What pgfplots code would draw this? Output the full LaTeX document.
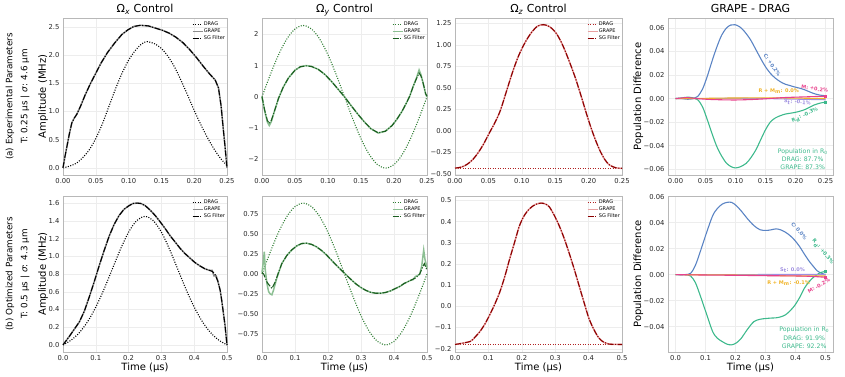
\documentclass[border=0pt]{standalone}
\usepackage{fontspec}
\setmainfont{DejaVu Sans}
\usepackage{pgfplots}
\pgfplotsset{compat=1.18}

\definecolor{cblue}{HTML}{5B84C4}
\definecolor{cgreen}{HTML}{3DB98C}
\definecolor{cpink}{HTML}{E8418C}
\definecolor{corange}{HTML}{F0B429}
\definecolor{cpurple}{HTML}{9F8FE0}
\definecolor{gdark}{HTML}{1B5E20}
\definecolor{gmid}{HTML}{2E7D32}
\definecolor{glight}{HTML}{8CBF93}
\definecolor{rdark}{HTML}{8B0000}
\definecolor{rmid}{HTML}{B22222}
\definecolor{rlight}{HTML}{E8A0A0}
\definecolor{framec}{HTML}{B8B8B8}

\tikzset{lab/.style={font=\bfseries\fontsize{5}{6}\selectfont}}

\pgfplotsset{
  every axis title/.style={at={(0.5,1)}, anchor=base, yshift=5.5pt, inner sep=0pt, font=\fontsize{11}{13}\selectfont},
  base/.style={
    scale only axis, clip=false, anchor=south west,
    scaled y ticks=false, scaled x ticks=false,
    axis line style={draw=framec, line width=0.6pt},
    tick style={draw=none},
    grid=major, major grid style={draw=black!7, line width=0.4pt},
    ticklabel style={font=\fontsize{6.8}{8}\selectfont, text=black!85},
    label style={font=\fontsize{10}{12}\selectfont},
    legend style={draw=none, fill=none, at={(0.995,0.985)}, anchor=north east,
      font=\fontsize{5}{5.5}\selectfont, row sep=0.6pt, inner sep=0.5pt, nodes={inner sep=0.6pt}},
    legend cell align=left,
    legend image code/.code={\draw[#1] (0pt,0pt) -- (10pt,0pt);},
  },
  ylab/.style={ylabel={Amplitude (MHz)}, ylabel style={at={(axis description cs:-0.122,0.5)}, anchor=center}},
  tlab/.style={xlabel={Time (µs)}, xlabel style={at={(axis description cs:0.5,-0.103)}, anchor=center}},
  drag/.style={line width=1.1pt, dash pattern=on 1pt off 1.5pt},
  grape/.style={line width=1.5pt},
  sg/.style={line width=1.1pt, dash pattern=on 6pt off 1.5pt on 1.2pt off 1.5pt},
  diff/.style={line width=1.1pt, smooth},
  r1x/.style={xmin=0, xmax=0.25, xtick={0,0.05,0.1,0.15,0.2,0.25}, xticklabels={0.00,0.05,0.10,0.15,0.20,0.25}},
  r2x/.style={xmin=0, xmax=0.5, xtick={0,0.1,0.2,0.3,0.4,0.5}, xticklabels={0.0,0.1,0.2,0.3,0.4,0.5}},
}

\begin{document}
\begin{tikzpicture}
\useasboundingbox (0pt,0pt) rectangle (845pt,377pt);

% row labels
\node[rotate=90, font=\fontsize{8.8}{10}\selectfont] at (10pt,280.5pt) {(a) Experimental Parameters};
\node[rotate=90, font=\fontsize{8.8}{10}\selectfont] at (25pt,280.5pt) {T: 0.25 µs | \textit{σ}: 4.6 µm};
\node[rotate=90, font=\fontsize{8.8}{10}\selectfont] at (10pt,103pt) {(b) Optimized Parameters};
\node[rotate=90, font=\fontsize{8.8}{10}\selectfont] at (25pt,103pt) {T: 0.5 µs | \textit{σ}: 4.3 µm};

%================ ROW 1 ================
\begin{axis}[base, ylab, r1x, at={(63pt,202pt)}, width=164pt, height=157pt,
  ymin=-0.127, ymax=2.66, ytick={0,0.5,1,1.5,2,2.5}, yticklabels={0.0,0.5,1.0,1.5,2.0,2.5},
  title={Ω\textsubscript{\textit{x}} Control}]
\addplot[drag, black, smooth] coordinates {(0,0) (0.01,0.03) (0.02,0.08) (0.03,0.18) (0.04,0.32) (0.05,0.52) (0.06,0.78) (0.07,1.09) (0.08,1.40) (0.09,1.68) (0.10,1.91) (0.11,2.08) (0.12,2.2) (0.128,2.24) (0.14,2.2) (0.15,2.12) (0.16,1.98) (0.17,1.79) (0.18,1.55) (0.19,1.29) (0.20,1.02) (0.21,0.77) (0.22,0.54) (0.23,0.34) (0.24,0.17) (0.25,0.04)};
\addlegendentry{DRAG}
\addplot[grape, black!45] coordinates {(0,0) (0.003,0.2) (0.006,0.38) (0.01,0.62) (0.0135,0.8) (0.017,0.88) (0.021,0.95) (0.0266,1.09) (0.034,1.3) (0.042,1.5) (0.05,1.68) (0.058,1.86) (0.068,2.05) (0.079,2.22) (0.09,2.37) (0.099,2.45) (0.108,2.51) (0.118,2.53) (0.13,2.52) (0.141,2.48) (0.152,2.44) (0.162,2.39) (0.172,2.32) (0.183,2.22) (0.193,2.1) (0.204,1.95) (0.214,1.8) (0.224,1.66) (0.232,1.56) (0.237,1.42) (0.241,1.1) (0.244,0.73) (0.247,0.38) (0.25,0.0)};
\addlegendentry{GRAPE}
\addplot[sg, black] coordinates {(0,0) (0.003,0.2) (0.006,0.38) (0.01,0.62) (0.0135,0.8) (0.017,0.88) (0.021,0.95) (0.0266,1.09) (0.034,1.3) (0.042,1.5) (0.05,1.68) (0.058,1.86) (0.068,2.05) (0.079,2.22) (0.09,2.37) (0.099,2.45) (0.108,2.51) (0.118,2.53) (0.13,2.52) (0.141,2.48) (0.152,2.44) (0.162,2.39) (0.172,2.32) (0.183,2.22) (0.193,2.1) (0.204,1.95) (0.214,1.8) (0.224,1.66) (0.232,1.56) (0.237,1.42) (0.241,1.1) (0.244,0.73) (0.247,0.38) (0.25,0.0)};
\addlegendentry{SG Filter}
\end{axis}

\begin{axis}[base, r1x, at={(262pt,202pt)}, width=165pt, height=157pt,
  ymin=-2.5, ymax=2.52, ytick={-2,-1,0,1,2}, yticklabels={−2,−1,0,1,2},
  title={Ω\textsubscript{\textit{y}} Control}]
\addplot[drag, gmid, smooth] coordinates {(0,0) (0.0125,0.705) (0.025,1.341) (0.0375,1.845) (0.05,2.168) (0.0625,2.28) (0.075,2.168) (0.0875,1.845) (0.1,1.341) (0.1125,0.705) (0.125,0) (0.1375,-0.705) (0.15,-1.341) (0.1625,-1.845) (0.175,-2.168) (0.1875,-2.28) (0.2,-2.168) (0.2125,-1.845) (0.225,-1.341) (0.2375,-0.705) (0.25,0)};
\addlegendentry{DRAG}
\addplot[grape, glight] coordinates {(0,0) (0.004,-0.45) (0.008,-0.8) (0.011,-0.92) (0.014,-0.8) (0.019,-0.45) (0.025,-0.05) (0.032,0.3) (0.04,0.6) (0.05,0.85) (0.058,0.96) (0.067,1.0) (0.075,0.97) (0.085,0.88) (0.095,0.72) (0.105,0.5) (0.115,0.25) (0.125,0.0) (0.135,-0.28) (0.145,-0.55) (0.155,-0.8) (0.165,-1.02) (0.176,-1.16) (0.187,-1.1) (0.197,-0.92) (0.204,-0.73) (0.212,-0.47) (0.219,-0.19) (0.224,0.03) (0.229,0.33) (0.234,0.6) (0.238,0.86) (0.241,0.7) (0.244,0.45) (0.248,0.08) (0.25,0.0)};
\addlegendentry{GRAPE}
\addplot[sg, gdark] coordinates {(0,0) (0.004,-0.42) (0.008,-0.75) (0.011,-0.85) (0.014,-0.76) (0.019,-0.45) (0.025,-0.05) (0.032,0.3) (0.04,0.6) (0.05,0.85) (0.058,0.96) (0.067,0.99) (0.075,0.97) (0.085,0.88) (0.095,0.72) (0.105,0.5) (0.115,0.25) (0.125,0.0) (0.135,-0.28) (0.145,-0.55) (0.155,-0.8) (0.165,-1.02) (0.176,-1.15) (0.187,-1.1) (0.197,-0.92) (0.204,-0.73) (0.212,-0.47) (0.219,-0.19) (0.224,0.03) (0.229,0.33) (0.234,0.58) (0.238,0.76) (0.241,0.66) (0.244,0.45) (0.248,0.1) (0.25,0.02)};
\addlegendentry{SG Filter}
\end{axis}

\begin{axis}[base, r1x, at={(455pt,202pt)}, width=167pt, height=157pt,
  ymin=-0.513, ymax=1.313, ytick={-0.5,-0.25,0,0.25,0.5,0.75,1,1.25}, yticklabels={−0.50,−0.25,0.00,0.25,0.50,0.75,1.00,1.25},
  title={Ω\textsubscript{\textit{z}} Control}]
\addplot[drag, rmid] coordinates {(0,-0.433) (0.25,-0.433)};
\addlegendentry{DRAG}
\addplot[grape, rlight, smooth] coordinates {(0,-0.433) (0.01,-0.42) (0.0187,-0.386) (0.027,-0.33) (0.035,-0.25) (0.043,-0.15) (0.051,-0.03) (0.06,0.1) (0.068,0.24) (0.077,0.46) (0.086,0.68) (0.095,0.87) (0.105,1.03) (0.115,1.15) (0.124,1.22) (0.133,1.235) (0.142,1.21) (0.152,1.13) (0.161,1.0) (0.17,0.83) (0.18,0.62) (0.189,0.40) (0.196,0.22) (0.203,0.05) (0.21,-0.1) (0.217,-0.23) (0.224,-0.33) (0.231,-0.395) (0.241,-0.43) (0.25,-0.435)};
\addlegendentry{GRAPE}
\addplot[sg, rdark, smooth] coordinates {(0,-0.433) (0.01,-0.42) (0.0187,-0.386) (0.027,-0.33) (0.035,-0.25) (0.043,-0.15) (0.051,-0.03) (0.06,0.1) (0.068,0.24) (0.077,0.46) (0.086,0.68) (0.095,0.87) (0.105,1.03) (0.115,1.15) (0.124,1.22) (0.133,1.235) (0.142,1.21) (0.152,1.13) (0.161,1.0) (0.17,0.83) (0.18,0.62) (0.189,0.40) (0.196,0.22) (0.203,0.05) (0.21,-0.1) (0.217,-0.23) (0.224,-0.33) (0.231,-0.395) (0.241,-0.43) (0.25,-0.435)};
\addlegendentry{SG Filter}
\end{axis}

\begin{axis}[base, at={(668pt,202pt)}, width=165pt, height=157pt,
  xmin=-0.0125, xmax=0.2625, xtick={0,0.05,0.1,0.15,0.2,0.25}, xticklabels={0.00,0.05,0.10,0.15,0.20,0.25},
  ymin=-0.065, ymax=0.0685, ytick={-0.06,-0.04,-0.02,0,0.02,0.04,0.06}, yticklabels={−0.06,−0.04,−0.02,0.00,0.02,0.04,0.06},
  ylabel={Population Difference}, ylabel style={at={(axis description cs:-0.18,0.5)}, anchor=center},
  title={GRAPE - DRAG}]
\addplot[diff, cblue] coordinates {(0,0) (0.01,0) (0.0205,-0.0006) (0.03,0.0) (0.037,0.0018) (0.045,0.008) (0.053,0.019) (0.061,0.032) (0.069,0.044) (0.077,0.054) (0.085,0.06) (0.092,0.0625) (0.099,0.0628) (0.107,0.061) (0.115,0.057) (0.125,0.05) (0.134,0.0416) (0.142,0.034) (0.150,0.027) (0.158,0.0215) (0.166,0.0175) (0.175,0.0142) (0.183,0.0122) (0.191,0.011) (0.199,0.0098) (0.207,0.0088) (0.215,0.0075) (0.223,0.0058) (0.231,0.0042) (0.24,0.003) (0.25,0.0024)};
\addplot[diff, cgreen] coordinates {(0,0) (0.01,0.0005) (0.0205,0.0012) (0.03,0.0005) (0.037,-0.001) (0.045,-0.007) (0.053,-0.018) (0.061,-0.03) (0.069,-0.041) (0.077,-0.049) (0.085,-0.055) (0.093,-0.058) (0.1,-0.059) (0.108,-0.058) (0.118,-0.055) (0.126,-0.05) (0.134,-0.0436) (0.142,-0.035) (0.150,-0.0265) (0.158,-0.02) (0.166,-0.0166) (0.175,-0.0145) (0.183,-0.0132) (0.191,-0.0125) (0.199,-0.0118) (0.207,-0.0108) (0.215,-0.0095) (0.223,-0.0075) (0.231,-0.0055) (0.24,-0.004) (0.25,-0.003)};
\addplot[diff, cpurple] coordinates {(0,0) (0.05,0.0) (0.1,0.0003) (0.15,0.0) (0.2,-0.0005) (0.25,-0.001)};
\addplot[diff, corange] coordinates {(0,0) (0.03,0.0) (0.08,0.0004) (0.15,0.0006) (0.2,0.0004) (0.25,0.0)};
\addplot[diff, cpink] coordinates {(0,0) (0.02,0.0008) (0.035,0.0) (0.06,-0.0008) (0.1,-0.0012) (0.14,-0.0005) (0.18,0.0008) (0.22,0.0015) (0.25,0.002)};
\addplot[only marks, mark=square*, mark size=1.1pt, cgreen] coordinates {(0.25,-0.003)};
\addplot[only marks, mark=square*, mark size=1.1pt, cpink] coordinates {(0.25,0.002)};
\node[lab, text=cblue, rotate=-55] at (axis cs:0.161,0.0285) {C: +0.2\%};
\node[lab, text=cpink, rotate=-8] at (axis cs:0.232,0.0083) {M: +0.2\%};
\node[lab, text=corange] at (axis cs:0.172,0.0062) {R + M\textsubscript{m}: 0.0\%};
\node[lab, text=cpurple, rotate=-5] at (axis cs:0.203,-0.0035) {S\textsubscript{t}: -0.1\%};
\node[lab, text=cgreen, rotate=25] at (axis cs:0.216,-0.0145) {R\textsubscript{d}: -0.3\%};
\node[text=cgreen, align=center, font=\fontsize{6.2}{8.3}\selectfont] at (axis cs:0.212,-0.0515) {Population in R\textsubscript{0}\\DRAG: 87.7\%\\GRAPE: 87.3\%};
\end{axis}

%================ ROW 2 ================
\begin{axis}[base, ylab, tlab, r2x, at={(63pt,25pt)}, width=164pt, height=156pt,
  ymin=-0.08, ymax=1.68, ytick={0,0.2,0.4,0.6,0.8,1,1.2,1.4,1.6}, yticklabels={0.0,0.2,0.4,0.6,0.8,1.0,1.2,1.4,1.6}]
\addplot[drag, black, smooth] coordinates {(0,0) (0.025,0.054) (0.05,0.139) (0.075,0.262) (0.1,0.426) (0.125,0.628) (0.15,0.853) (0.175,1.078) (0.2,1.272) (0.225,1.403) (0.25,1.45) (0.275,1.403) (0.3,1.272) (0.325,1.078) (0.35,0.853) (0.375,0.628) (0.4,0.426) (0.425,0.262) (0.45,0.139) (0.475,0.054) (0.5,0)};
\addlegendentry{DRAG}
\addplot[grape, black!45] coordinates {(0,0) (0.02,0.1) (0.05,0.26) (0.065,0.38) (0.08,0.54) (0.095,0.71) (0.11,0.89) (0.125,1.06) (0.141,1.23) (0.156,1.36) (0.171,1.46) (0.186,1.53) (0.201,1.57) (0.213,1.595) (0.226,1.60) (0.238,1.595) (0.251,1.57) (0.266,1.52) (0.281,1.46) (0.296,1.39) (0.312,1.31) (0.327,1.23) (0.342,1.16) (0.357,1.09) (0.372,1.03) (0.387,0.98) (0.402,0.93) (0.418,0.89) (0.432,0.86) (0.447,0.84) (0.455,0.84) (0.46,0.78) (0.467,0.78) (0.472,0.72) (0.479,0.62) (0.484,0.5) (0.489,0.36) (0.494,0.22) (0.5,0.0)};
\addlegendentry{GRAPE}
\addplot[sg, black] coordinates {(0,0) (0.02,0.1) (0.05,0.26) (0.065,0.38) (0.08,0.54) (0.095,0.71) (0.11,0.89) (0.125,1.06) (0.141,1.23) (0.156,1.36) (0.171,1.46) (0.186,1.53) (0.201,1.57) (0.213,1.595) (0.226,1.60) (0.238,1.595) (0.251,1.57) (0.266,1.52) (0.281,1.46) (0.296,1.39) (0.312,1.31) (0.327,1.23) (0.342,1.16) (0.357,1.09) (0.372,1.03) (0.387,0.98) (0.402,0.93) (0.418,0.89) (0.432,0.86) (0.447,0.84) (0.455,0.83) (0.463,0.8) (0.472,0.72) (0.479,0.62) (0.484,0.5) (0.489,0.36) (0.494,0.22) (0.5,0.0)};
\addlegendentry{SG Filter}
\end{axis}

\begin{axis}[base, tlab, r2x, at={(262pt,25pt)}, width=165pt, height=156pt,
  ymin=-0.974, ymax=0.974, ytick={-0.75,-0.5,-0.25,0,0.25,0.5,0.75}, yticklabels={−0.75,−0.50,−0.25,0.00,0.25,0.50,0.75}]
\addplot[drag, gmid, smooth] coordinates {(0,0) (0.025,0.273) (0.05,0.520) (0.075,0.716) (0.1,0.842) (0.125,0.885) (0.15,0.842) (0.175,0.716) (0.2,0.520) (0.225,0.273) (0.25,0) (0.275,-0.273) (0.3,-0.520) (0.325,-0.716) (0.35,-0.842) (0.375,-0.885) (0.4,-0.842) (0.425,-0.716) (0.45,-0.520) (0.475,-0.273) (0.5,0)};
\addlegendentry{DRAG}
\addplot[grape, glight] coordinates {(0,0.02) (0.004,0.15) (0.007,0.28) (0.01,0.05) (0.015,-0.12) (0.02,-0.22) (0.025,-0.25) (0.03,-0.26) (0.035,-0.2) (0.045,-0.05) (0.06,0.13) (0.075,0.23) (0.09,0.30) (0.105,0.35) (0.12,0.38) (0.135,0.385) (0.15,0.37) (0.165,0.34) (0.18,0.295) (0.195,0.24) (0.21,0.175) (0.225,0.11) (0.24,0.05) (0.255,-0.01) (0.27,-0.07) (0.285,-0.125) (0.3,-0.17) (0.315,-0.205) (0.33,-0.23) (0.345,-0.24) (0.36,-0.24) (0.375,-0.23) (0.39,-0.21) (0.405,-0.18) (0.42,-0.15) (0.43,-0.12) (0.44,-0.1) (0.45,-0.08) (0.458,-0.07) (0.465,-0.03) (0.472,-0.02) (0.478,0.0) (0.484,0.1) (0.49,0.3) (0.494,0.18) (0.5,0.08)};
\addlegendentry{GRAPE}
\addplot[sg, gdark] coordinates {(0,0.02) (0.005,0.0) (0.01,-0.05) (0.015,-0.1) (0.02,-0.13) (0.03,-0.18) (0.04,-0.1) (0.05,0.02) (0.06,0.13) (0.075,0.23) (0.09,0.30) (0.105,0.35) (0.12,0.38) (0.135,0.385) (0.15,0.37) (0.165,0.34) (0.18,0.295) (0.195,0.24) (0.21,0.175) (0.225,0.11) (0.24,0.05) (0.255,-0.01) (0.27,-0.07) (0.285,-0.125) (0.3,-0.17) (0.315,-0.205) (0.33,-0.23) (0.345,-0.24) (0.36,-0.24) (0.375,-0.23) (0.39,-0.21) (0.405,-0.18) (0.42,-0.15) (0.43,-0.12) (0.44,-0.1) (0.45,-0.08) (0.465,-0.05) (0.478,0.0) (0.486,0.08) (0.492,0.13) (0.5,0.05)};
\addlegendentry{SG Filter}
\end{axis}

\begin{axis}[base, tlab, r2x, at={(455pt,25pt)}, width=167pt, height=156pt,
  ymin=-0.2155, ymax=0.5205, ytick={-0.2,-0.1,0,0.1,0.2,0.3,0.4,0.5}, yticklabels={−0.2,−0.1,0.0,0.1,0.2,0.3,0.4,0.5}]
\addplot[drag, rmid] coordinates {(0,-0.182) (0.5,-0.182)};
\addlegendentry{DRAG}
\addplot[grape, rlight, smooth] coordinates {(0,-0.18) (0.045,-0.166) (0.06,-0.145) (0.074,-0.12) (0.089,-0.085) (0.104,-0.04) (0.119,0.01) (0.134,0.067) (0.149,0.14) (0.163,0.22) (0.178,0.30) (0.193,0.38) (0.208,0.43) (0.223,0.46) (0.24,0.48) (0.257,0.487) (0.27,0.483) (0.282,0.47) (0.297,0.43) (0.312,0.38) (0.327,0.32) (0.342,0.25) (0.357,0.175) (0.371,0.10) (0.386,0.02) (0.401,-0.057) (0.416,-0.11) (0.431,-0.15) (0.446,-0.17) (0.46,-0.178) (0.49,-0.18) (0.5,-0.18)};
\addlegendentry{GRAPE}
\addplot[sg, rdark, smooth] coordinates {(0,-0.18) (0.045,-0.166) (0.06,-0.145) (0.074,-0.12) (0.089,-0.085) (0.104,-0.04) (0.119,0.01) (0.134,0.067) (0.149,0.14) (0.163,0.22) (0.178,0.30) (0.193,0.38) (0.208,0.43) (0.223,0.46) (0.24,0.48) (0.257,0.487) (0.27,0.483) (0.282,0.47) (0.297,0.43) (0.312,0.38) (0.327,0.32) (0.342,0.25) (0.357,0.175) (0.371,0.10) (0.386,0.02) (0.401,-0.057) (0.416,-0.11) (0.431,-0.15) (0.446,-0.17) (0.46,-0.178) (0.49,-0.18) (0.5,-0.18)};
\addlegendentry{SG Filter}
\end{axis}

\begin{axis}[base, tlab, at={(668pt,25pt)}, width=165pt, height=156pt,
  xmin=-0.025, xmax=0.525, xtick={0,0.1,0.2,0.3,0.4,0.5}, xticklabels={0.0,0.1,0.2,0.3,0.4,0.5},
  ymin=-0.0595, ymax=0.0605, ytick={-0.04,-0.02,0,0.02,0.04,0.06}, yticklabels={−0.04,−0.02,0.00,0.02,0.04,0.06},
  ylabel={Population Difference}, ylabel style={at={(axis description cs:-0.18,0.5)}, anchor=center}]
\addplot[diff, cblue] coordinates {(0,0) (0.03,0) (0.05,0.001) (0.066,0.007) (0.082,0.0173) (0.103,0.032) (0.124,0.0454) (0.14,0.051) (0.156,0.0543) (0.172,0.0556) (0.187,0.0556) (0.203,0.053) (0.219,0.049) (0.24,0.043) (0.261,0.0378) (0.282,0.0345) (0.303,0.034) (0.319,0.0345) (0.335,0.0352) (0.35,0.0345) (0.366,0.0327) (0.382,0.03) (0.398,0.0263) (0.414,0.0215) (0.429,0.016) (0.445,0.0105) (0.461,0.0059) (0.472,0.003) (0.482,0.0015) (0.5,0.0)};
\addplot[diff, cgreen] coordinates {(0,0) (0.03,0) (0.05,-0.001) (0.066,-0.006) (0.082,-0.0158) (0.103,-0.03) (0.124,-0.0439) (0.14,-0.049) (0.156,-0.0515) (0.172,-0.0535) (0.187,-0.054) (0.203,-0.0525) (0.219,-0.049) (0.24,-0.042) (0.261,-0.0362) (0.282,-0.0343) (0.303,-0.0337) (0.319,-0.0334) (0.335,-0.0332) (0.35,-0.0325) (0.366,-0.031) (0.382,-0.0278) (0.398,-0.0235) (0.414,-0.0175) (0.429,-0.0107) (0.445,-0.0055) (0.461,-0.0018) (0.472,0.0) (0.482,0.0015) (0.5,0.0025)};
\addplot[diff, cpurple] coordinates {(0,0) (0.2,0.0) (0.4,0.0002) (0.5,0.0)};
\addplot[diff, corange] coordinates {(0,0) (0.2,-0.0003) (0.3,-0.0006) (0.4,-0.001) (0.5,-0.001)};
\addplot[diff, cpink] coordinates {(0,0) (0.1,-0.0003) (0.2,-0.0005) (0.3,-0.0008) (0.4,-0.001) (0.45,-0.0013) (0.5,-0.002)};
\addplot[only marks, mark=square*, mark size=1.1pt, cgreen] coordinates {(0.5,0.0025)};
\addplot[only marks, mark=square*, mark size=1.1pt, cpink] coordinates {(0.5,-0.002)};
\node[lab, text=cblue, rotate=-50] at (axis cs:0.412,0.0335) {C: 0.0\%};
\node[lab, text=cgreen, rotate=-50] at (axis cs:0.49,0.0175) {R\textsubscript{d}: +0.3\%};
\node[lab, text=cpurple] at (axis cs:0.39,0.0035) {S\textsubscript{t}: 0.0\%};
\node[lab, text=corange] at (axis cs:0.377,-0.0062) {R + M\textsubscript{m}: -0.1\%};
\node[lab, text=cpink, rotate=30] at (axis cs:0.478,-0.0085) {M: -0.2\%};
\node[text=cgreen, align=center, font=\fontsize{6.2}{8.3}\selectfont] at (axis cs:0.429,-0.0485) {Population in R\textsubscript{0}\\DRAG: 91.9\%\\GRAPE: 92.2\%};
\end{axis}
\end{tikzpicture}
\end{document}
